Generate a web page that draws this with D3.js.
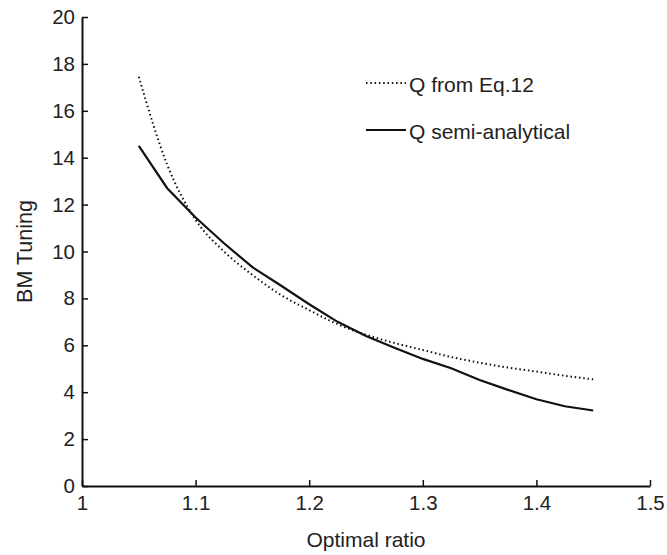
<!DOCTYPE html>
<html>
<head>
<meta charset="utf-8">
<script src="https://cdn.jsdelivr.net/npm/d3@7"></script>
<style>
  body { margin: 0; background: #fff; }
  svg text { font-family: "Liberation Sans", Arial, sans-serif; fill: #222; }
</style>
</head>
<body>
<svg id="chart" width="667" height="555"></svg>
<script>
// optimal ratio values (x)
var ratios = [1.05, 1.075, 1.1, 1.125, 1.15, 1.175, 1.2, 1.225, 1.25, 1.275, 1.3, 1.325, 1.35, 1.375, 1.4, 1.425, 1.45];
// Q from Eq.12 (dotted)
var qEq12 = [17.45, 13.7, 11.35, 10.0, 9.0, 8.15, 7.5, 6.9, 6.45, 6.1, 5.8, 5.5, 5.26, 5.05, 4.88, 4.7, 4.55];
// Q semi-analytical (solid)
var qSemi = [14.5, 12.7, 11.45, 10.35, 9.33, 8.55, 7.75, 7.0, 6.4, 5.9, 5.42, 5.02, 4.52, 4.1, 3.7, 3.4, 3.22];

var xTicks = [1, 1.1, 1.2, 1.3, 1.4, 1.5];
var yTicks = [0, 2, 4, 6, 8, 10, 12, 14, 16, 18, 20];
var seriesNames = ["Q from Eq.12", "Q semi-analytical"];

var margin = {top: 17, right: 17, bottom: 69, left: 82},
    width = 667 - margin.left - margin.right,
    height = 555 - margin.top - margin.bottom;

var svg = d3.select("#chart")
  .append("g")
  .attr("transform", "translate(" + margin.left + "," + margin.top + ")");

var x = d3.scaleLinear().domain([1, 1.5]).range([0, width]);
var y = d3.scaleLinear().domain([0, 20]).range([height, 0]);

// axes, ticks point inward
var xAxis = svg.append("g")
  .attr("transform", "translate(0," + height + ")")
  .call(d3.axisBottom(x).tickValues(xTicks).tickFormat(d3.format("")).tickSizeInner(-6).tickSizeOuter(0).tickPadding(9));

var yAxis = svg.append("g")
  .call(d3.axisLeft(y).tickValues(yTicks).tickSizeInner(-6).tickSizeOuter(0).tickPadding(7));

[xAxis, yAxis].forEach(function(a){
  a.select(".domain").attr("stroke", "#111").attr("stroke-width", 2);
  a.selectAll(".tick line").attr("stroke", "#111").attr("stroke-width", 1.5);
  a.selectAll(".tick text").attr("font-size", "20.5px").attr("fill", "#222");
});

var line = d3.line()
  .x(function(d){ return x(d[0]); })
  .y(function(d){ return y(d[1]); });

svg.append("path")
  .datum(d3.zip(ratios, qEq12))
  .attr("d", line.curve(d3.curveMonotoneX))
  .attr("fill", "none")
  .attr("stroke", "#111")
  .attr("stroke-width", 2)
  .attr("stroke-dasharray", "1.5,2.8");

svg.append("path")
  .datum(d3.zip(ratios, qSemi))
  .attr("d", line.curve(d3.curveLinear))
  .attr("fill", "none")
  .attr("stroke", "#111")
  .attr("stroke-width", 2.2);

// legend
var legend = svg.append("g").attr("transform", "translate(" + (366 - margin.left) + "," + (83 - margin.top) + ")");
seriesNames.forEach(function(name, i){
  var g = legend.append("g").attr("transform", "translate(0," + (i * 47) + ")");
  g.append("line")
    .attr("x1", 0).attr("x2", 40).attr("y1", 0).attr("y2", 0)
    .attr("stroke", "#111")
    .attr("stroke-width", 2)
    .attr("stroke-dasharray", i === 0 ? "1.5,2.8" : null);
  g.append("text")
    .attr("x", 43).attr("y", 2)
    .attr("dy", "0.32em")
    .attr("font-size", "21px")
    .text(name);
});

// axis titles
svg.append("text")
  .attr("x", width / 2)
  .attr("y", height + 61)
  .attr("text-anchor", "middle")
  .attr("font-size", "21px")
  .text("Optimal ratio");

svg.append("text")
  .attr("transform", "translate(" + (-50) + "," + (height / 2) + ") rotate(-90)")
  .attr("text-anchor", "middle")
  .attr("font-size", "21.5px")
  .text("BM Tuning");
</script>
</body>
</html>
